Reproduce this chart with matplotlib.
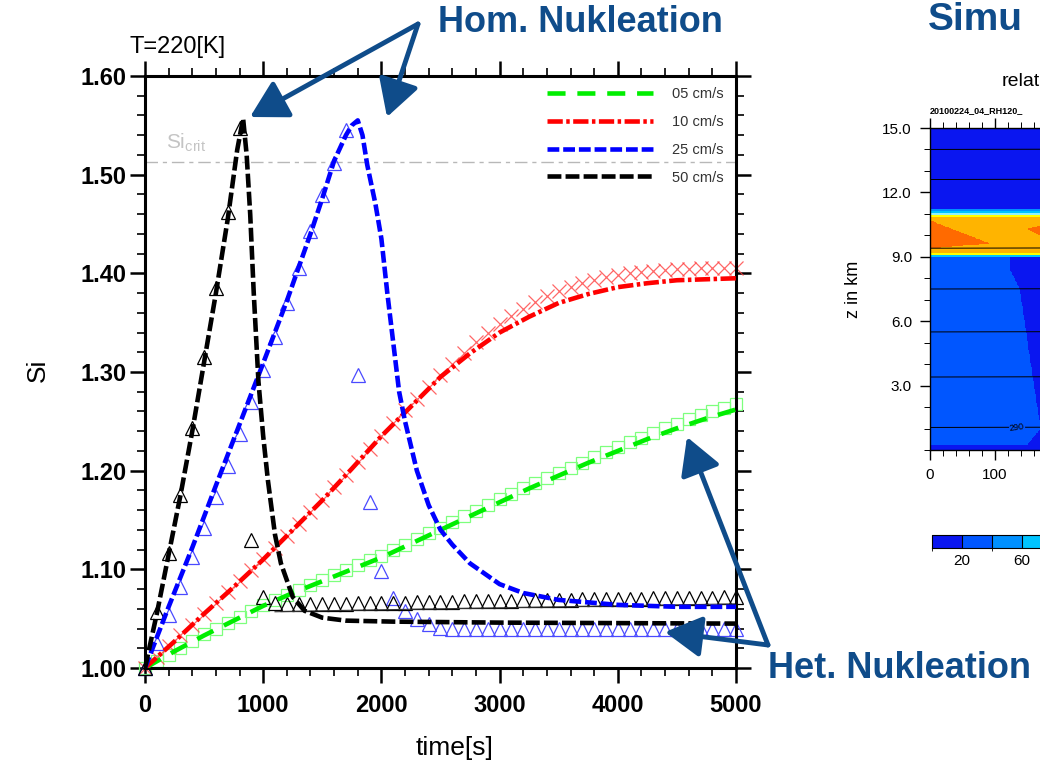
import numpy as np
import matplotlib
matplotlib.use('Agg')
import matplotlib.pyplot as plt
from matplotlib.colors import ListedColormap, BoundaryNorm
from matplotlib.ticker import MultipleLocator

plt.rcParams['font.family'] = ['Liberation Sans', 'DejaVu Sans']
plt.rcParams['mathtext.fontset'] = 'custom'
plt.rcParams['mathtext.rm'] = 'Liberation Sans'
plt.rcParams['lines.scale_dashes'] = False

# ---------------- left panel: Si vs time ----------------
t_mk = np.arange(0, 5001, 100)

tri_50 = [1.000, 1.057, 1.117, 1.175, 1.243, 1.315, 1.385, 1.462, 1.547, 1.130, 1.072,
          1.066, 1.065, 1.065, 1.065, 1.065, 1.065, 1.065, 1.066, 1.066, 1.066,
          1.066, 1.066, 1.067, 1.067, 1.067, 1.067, 1.068, 1.068, 1.068, 1.068,
          1.068, 1.069, 1.069, 1.069, 1.069, 1.069, 1.070, 1.070, 1.070, 1.070,
          1.070, 1.070, 1.071, 1.071, 1.071, 1.071, 1.071, 1.071, 1.072, 1.072]
tri_25 = [1.000, 1.025, 1.054, 1.082, 1.112, 1.142, 1.173, 1.205, 1.237, 1.270, 1.302,
          1.335, 1.370, 1.405, 1.443, 1.479, 1.512, 1.545, 1.297, 1.168, 1.098,
          1.071, 1.058, 1.050, 1.045, 1.041] + [1.040] * 25
x_10 = [1.000, 1.011, 1.022, 1.033, 1.044, 1.055, 1.066, 1.077, 1.088, 1.099, 1.110,
        1.122, 1.134, 1.146, 1.158, 1.170, 1.183, 1.196, 1.209, 1.222, 1.235,
        1.248, 1.261, 1.273, 1.285, 1.297, 1.308, 1.319, 1.330, 1.340, 1.349,
        1.357, 1.364, 1.371, 1.377, 1.382, 1.386, 1.390, 1.393, 1.396, 1.398,
        1.400, 1.401, 1.402, 1.403, 1.404, 1.404, 1.405, 1.405, 1.405, 1.405]
sq_05 = [1.000, 1.007, 1.013, 1.020, 1.027, 1.034, 1.040, 1.046, 1.052, 1.058, 1.064,
         1.069, 1.074, 1.079, 1.084, 1.089, 1.094, 1.099, 1.104, 1.109, 1.114,
         1.120, 1.125, 1.131, 1.137, 1.142, 1.148, 1.154, 1.159, 1.165, 1.171,
         1.176, 1.182, 1.187, 1.193, 1.198, 1.203, 1.208, 1.214, 1.219, 1.224,
         1.229, 1.233, 1.238, 1.243, 1.247, 1.252, 1.256, 1.260, 1.264, 1.268]

t_grid = np.arange(0, 5001, 250)
line_05 = [1.000, 1.017, 1.033, 1.048, 1.063, 1.076, 1.088, 1.100, 1.112, 1.126, 1.140,
           1.154, 1.168, 1.182, 1.195, 1.208, 1.220, 1.232, 1.243, 1.253, 1.262]
line_10 = [1.000, 1.027, 1.055, 1.082, 1.110, 1.140, 1.170, 1.202, 1.235, 1.265, 1.295,
           1.319, 1.340, 1.356, 1.370, 1.379, 1.386, 1.390, 1.393, 1.394, 1.395]

t_25 = [0, 200, 400, 600, 800, 1000, 1200, 1400, 1500, 1600, 1700, 1750, 1800, 1840,
        1880, 1950, 2000, 2050, 2100, 2150, 2200, 2300, 2400, 2500, 2600, 2750, 3000,
        3200, 3500, 4000, 4500, 5000]
line_25 = [1.000, 1.062, 1.122, 1.185, 1.247, 1.309, 1.372, 1.440, 1.476, 1.514, 1.540,
           1.550, 1.555, 1.540, 1.510, 1.470, 1.435, 1.380, 1.330, 1.280, 1.250, 1.200,
           1.165, 1.140, 1.125, 1.106, 1.085, 1.076, 1.069, 1.064, 1.062, 1.062]

t_50 = [0, 100, 200, 300, 400, 500, 600, 700, 780, 830, 860, 890, 920, 960, 1000, 1040,
        1100, 1150, 1250, 1350, 1500, 1700, 2100, 3000, 5000]
line_50 = [1.000, 1.055, 1.115, 1.175, 1.240, 1.310, 1.380, 1.455, 1.525, 1.557, 1.520,
           1.460, 1.380, 1.290, 1.235, 1.190, 1.135, 1.106, 1.072, 1.058, 1.051, 1.048,
           1.047, 1.046, 1.045]

t_thin = [1100, 1500, 2000, 3000, 4000, 5000]
thin_50 = [1.057, 1.058, 1.059, 1.061, 1.063, 1.065]

si_crit = 1.513
labels = ['05 cm/s', '10 cm/s', '25 cm/s', '50 cm/s']

# ---------------- right panel (cropped contour plot) ----------------
rh_z_edges = [0.0, 0.25, 9.0, 9.08, 9.2, 10.85, 10.95, 11.05, 11.15, 11.25, 15.0]
rh_band = [10, 30, 70, 110, 130, 110, 90, 70, 50, 10]
wedge_z = [0.25, 1.0, 7.5, 8.4, 9.0]
wedge_x = [150, 170, 138, 123, 123]
core_l_x, core_l_lo, core_l_hi = [0, 92], [9.40, 9.62], [10.70, 9.62]
core_r_x, core_r_lo, core_r_hi = [149, 200, 800], [10.30, 9.50, 9.50], [10.30, 10.70, 10.70]
theta_z = [1.05, 3.4, 5.5, 7.5, 9.4, 12.6, 14.0]
rh_levels = [0, 20, 40, 60, 80, 100, 120, 140, 160]
rh_colors = ['#0a16f0', '#0056ff', '#0090ff', '#00c4ff', '#8ff0ff',
             '#ffff00', '#ffb400', '#ff6a00']

W, H = 1040, 776
navy = '#0f4c8a'


def fx(px):
    return px / W


def fy(py):
    return 1 - py / H


fig = plt.figure(figsize=(10.4, 7.76), dpi=100)
ax = fig.add_axes([fx(145), fy(668), (736 - 145) / W, (668 - 76) / H])

ax.plot(t_mk, sq_05, ls='none', marker='s', ms=9, mfc='none', mec='#7dff7d', mew=0.9,
        clip_on=False, zorder=2)
ax.plot(t_mk, x_10, ls='none', marker='x', ms=10, mec='#ff4040', mew=0.9, alpha=0.8,
        clip_on=False, zorder=2)
ax.plot(t_mk, tri_25, ls='none', marker='^', ms=9.5, mfc='none', mec='#4a4aff', mew=0.9,
        clip_on=False, zorder=2)
ax.plot(t_mk, tri_50, ls='none', marker='^', ms=9.5, mfc='none', mec='black', mew=0.9,
        clip_on=False, zorder=2)
ax.plot(t_thin, thin_50, color='#333333', lw=0.8, zorder=2)

ax.axhline(si_crit, color='#b8b8b8', lw=1.0, dashes=(9, 3.5, 3, 3.5), zorder=1)
ax.text(180, 1.527, r'Si$_{\mathrm{crit}}$', color='#c4c4c4', fontsize=15)

h1, = ax.plot(t_grid, line_05, color='#00ee00', lw=3.3, dashes=(13, 8.5), zorder=3)
h2, = ax.plot(t_grid, line_10, color='#ff0000', lw=3.3, dashes=(11, 2.5, 2.5, 2.5), zorder=3)
h3, = ax.plot(t_25, line_25, color='#0000ff', lw=3.3, dashes=(8.5, 2.8), zorder=3)
h4, = ax.plot(t_50, line_50, color='black', lw=3.3, dashes=(10, 3), zorder=4)

leg = ax.legend([h1, h2, h3, h4], labels, loc='upper right',
                bbox_to_anchor=((724 - 145) / 591, (668 - 87) / 592),
                frameon=False, fontsize=10.5, handlelength=7.3, handletextpad=1.3,
                labelspacing=0.95, borderpad=0, borderaxespad=0)
for txt in leg.get_texts():
    txt.set_color('#333333')

ax.set_xlim(0, 5000)
ax.set_ylim(1.0, 1.6)
ax.set_xticks(np.arange(0, 5001, 1000), [str(v) for v in range(0, 5001, 1000)],
              fontweight='bold')
yt = np.arange(1.0, 1.61, 0.1)
ax.set_yticks(yt, ['%.2f' % v for v in yt], fontweight='bold')
ax.xaxis.set_minor_locator(MultipleLocator(200))
ax.yaxis.set_minor_locator(MultipleLocator(0.02))
ax.tick_params(which='major', direction='out', length=11, width=1.8, top=True, right=True,
               labelsize=17)
ax.tick_params(which='minor', direction='out', length=6, width=1.2, top=True, right=True)
ax.tick_params(axis='x', which='major', pad=8)
ax.tick_params(axis='y', which='major', pad=2)
for sp in ax.spines.values():
    sp.set_linewidth(2.2)

ax.set_xlabel('time[s]', fontsize=19)
ax.xaxis.set_label_coords((455 - 145) / 591, (668 - 736) / 592)
ax.xaxis.label.set_va('top')
ax.set_ylabel('Si', fontsize=19)
ax.yaxis.set_label_coords((38 - 145) / 591, (668 - 370) / 592)
ax.yaxis.label.set_va('center')

fig.text(fx(130), fy(47), 'T=220[K]', fontsize=17, va='center', ha='left')

# ---------------- right panel ----------------
axr = fig.add_axes([fx(930), fy(450), 520 / W, (450 - 128) / H])
xg = np.arange(0, 801, 1.0)
zg = np.arange(0, 15.001, 0.02)
X, Z = np.meshgrid(xg, zg)
idx = np.clip(np.searchsorted(rh_z_edges, Z, side='right') - 1, 0, len(rh_band) - 1)
field = np.array(rh_band)[idx]
xb = np.interp(Z, wedge_z, wedge_x)
field = np.where((field == 30) & (X > xb), 10, field)
core_l = ((X < core_l_x[1]) & (Z > np.interp(X, core_l_x, core_l_lo))
          & (Z < np.interp(X, core_l_x, core_l_hi)))
core_r = ((X > core_r_x[0]) & (Z > np.interp(X, core_r_x, core_r_lo))
          & (Z < np.interp(X, core_r_x, core_r_hi)))
field = np.where((field == 130) & (core_l | core_r), 150, field)

cmap = ListedColormap(rh_colors)
norm = BoundaryNorm(rh_levels, cmap.N)
mesh = axr.pcolormesh(xg, zg, field, cmap=cmap, norm=norm, shading='auto')
for zc in theta_z:
    axr.plot([0, 800], [zc, zc + 0.05], color='black', lw=0.7)
axr.text(134, 1.05, '290', fontsize=6.5, rotation=8, ha='center', va='center',
         color='black', bbox=dict(fc='#0056ff', ec='none', pad=0.3))

axr.set_xlim(0, 800)
axr.set_ylim(0, 15)
# only the ticks inside the visible crop get a label
axr.set_xticks(np.arange(0, 801, 100), ['0', '100'] + [''] * 7)
axr.set_yticks([3, 6, 9, 12, 15], ['3.0', '6.0', '9.0', '12.0', '15.0'])
axr.xaxis.set_minor_locator(MultipleLocator(20))
axr.yaxis.set_minor_locator(MultipleLocator(1))
axr.tick_params(which='major', direction='out', length=7, width=1, top=True,
                labelsize=11, pad=6)
axr.tick_params(which='minor', direction='out', length=4, width=0.7, top=True)
for sp in axr.spines.values():
    sp.set_linewidth(1)
axr.set_ylabel('z in km', fontsize=13)
axr.yaxis.set_label_coords((862 - 930) / 520, (450 - 289) / 322)

fig.text(fx(1002), fy(81), 'relat', fontsize=14, va='center')
fig.text(fx(930), fy(111), '20100224_04_RH120_', fontsize=6.5, va='center',
         fontweight='bold')

cax = fig.add_axes([fx(932), fy(548), 240 / W, 13 / H])
cb = fig.colorbar(mesh, cax=cax, orientation='horizontal', ticks=[20, 60],
                  drawedges=True)
cb.outline.set_linewidth(0.8)
cb.dividers.set_linewidth(0.8)
cax.tick_params(length=0, labelsize=11, pad=4)

# ---------------- slide annotations ----------------
fig.text(fx(438), fy(23), 'Hom. Nukleation', fontsize=26, fontweight='bold',
         color=navy, va='center')
fig.text(fx(768), fy(669), 'Het. Nukleation', fontsize=26, fontweight='bold',
         color=navy, va='center')
fig.text(fx(928), fy(30), 'Simu', fontsize=28, fontweight='bold',
         color=navy, va='baseline')

arrow_kw = dict(arrowstyle='-|>,head_length=0.8,head_width=0.45', color=navy, lw=3.5,
                shrinkA=0, shrinkB=0, mutation_scale=28)
for tail, tip in [((418, 24), (250, 117)), ((418, 24), (387, 117)),
                  ((768, 645), (687, 437)), ((768, 645), (665, 632))]:
    fig.add_artist(matplotlib.patches.FancyArrowPatch(
        (fx(tail[0]), fy(tail[1])), (fx(tip[0]), fy(tip[1])),
        transform=fig.transFigure, **arrow_kw))

fig.savefig('out.png', dpi=100)
